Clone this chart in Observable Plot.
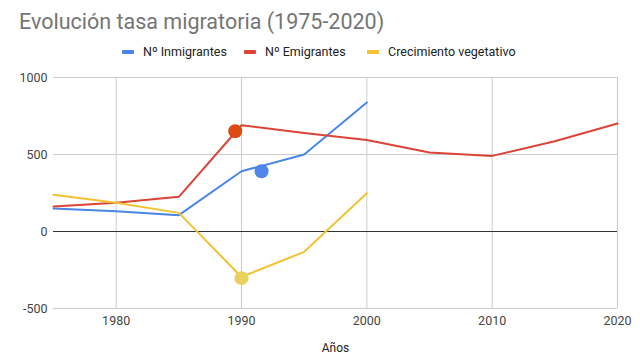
<!DOCTYPE html>
<html><head><meta charset="utf-8">
<script src="https://cdn.jsdelivr.net/npm/d3@7"></script>
<script src="https://cdn.jsdelivr.net/npm/@observablehq/plot@0.6"></script>
<style>
body{margin:0;background:#fff;font-family:Roboto,Arial,sans-serif;}
#wrap{position:relative;width:640px;height:360px;overflow:hidden;background:#fff;}
#title{position:absolute;left:19px;top:9px;font-size:21.5px;color:#757575;white-space:nowrap;line-height:normal;}
#legend{position:absolute;top:44px;left:0;width:640px;height:16px;font-size:12.5px;color:#222;white-space:nowrap;}
.item{position:absolute;top:0;display:flex;align-items:center;line-height:normal;}
.sw{width:12px;height:4px;border-radius:1px;margin-right:9px;}
#chart{position:absolute;left:0;top:60px;}
</style></head>
<body><div id="wrap">
<div id="title"></div>
<div id="legend"></div>
<div id="chart"></div>
</div>
<script>
const titleText = "Evolución tasa migratoria (1975-2020)";
const seriesNames = ["Nº Inmigrantes", "Nº Emigrantes", "Crecimiento vegetativo"];
const seriesColors = ["#4a86e8", "#db4437", "#f1c232"];
const legendLefts = [122, 244, 367];
const xLabel = "Años";

const yearsInmigrantes = [1975, 1980, 1985, 1990, 1995, 2000];
const inmigrantes = [149, 131, 106, 391, 500, 838];

const yearsEmigrantes = [1975, 1980, 1985, 1990, 1995, 2000, 2005, 2010, 2015, 2020];
const emigrantes = [162, 186, 225, 690, 640, 594, 513, 491, 586, 701];

const yearsVegetativo = [1975, 1980, 1985, 1990, 1995, 2000];
const vegetativo = [238, 186, 121, -295, -132, 249];

const highlightYears = [1989.5, 1991.6, 1990];
const highlightValues = [651, 391, -303];
const highlightColors = ["#dd4a14", "#4f86ec", "#ecd05c"];

const xTicks = [1980, 1990, 2000, 2010, 2020];
const yTicks = [-500, 0, 500, 1000];

document.getElementById("title").textContent = titleText;
const leg = document.getElementById("legend");
seriesNames.forEach((n, i) => {
  const it = document.createElement("div"); it.className = "item";
  it.style.left = legendLefts[i] + "px";
  const sw = document.createElement("div"); sw.className = "sw"; sw.style.background = seriesColors[i];
  const t = document.createElement("span"); t.textContent = n;
  it.appendChild(sw); it.appendChild(t); leg.appendChild(it);
});

const rows = [];
yearsInmigrantes.forEach((y, i) => rows.push({year: y, value: inmigrantes[i], s: seriesNames[0]}));
yearsEmigrantes.forEach((y, i) => rows.push({year: y, value: emigrantes[i], s: seriesNames[1]}));
yearsVegetativo.forEach((y, i) => rows.push({year: y, value: vegetativo[i], s: seriesNames[2]}));
const dots = highlightYears.map((y, i) => ({year: y, value: highlightValues[i], c: highlightColors[i]}));

const chart = Plot.plot({
  width: 640, height: 300,
  marginTop: 17, marginBottom: 52, marginLeft: 53, marginRight: 23,
  x: {domain: [1975, 2020], label: null},
  y: {domain: [-500, 1000], label: null},
  color: {domain: seriesNames, range: seriesColors},
  style: {fontFamily: "Roboto, Arial, sans-serif", fontSize: "12.5px", color: "#444", background: "#fff"},
  marks: [
    Plot.gridY(yTicks.filter(d => d !== 0), {stroke: "#cccccc", strokeOpacity: 1}),
    Plot.gridX(xTicks, {stroke: "#cccccc", strokeOpacity: 1}),
    Plot.ruleY([0], {stroke: "#333", strokeWidth: 1}),
    Plot.axisX({ticks: xTicks, tickFormat: d => String(d), tickSize: 0, tickPadding: 8, label: null}),
    Plot.axisY({ticks: yTicks, tickFormat: d => String(d), tickSize: 0, tickPadding: 6, label: null}),
    Plot.line(rows, {x: "year", y: "value", z: "s", stroke: "s", strokeWidth: 2}),
    Plot.dot(dots, {x: "year", y: "value", fill: d => d.c, r: 7}),
    Plot.text([xLabel], {frameAnchor: "bottom", dy: 43, text: d => d, fill: "#222", fontSize: 12})
  ]
});
document.getElementById("chart").appendChild(chart);
</script>
</body></html>
